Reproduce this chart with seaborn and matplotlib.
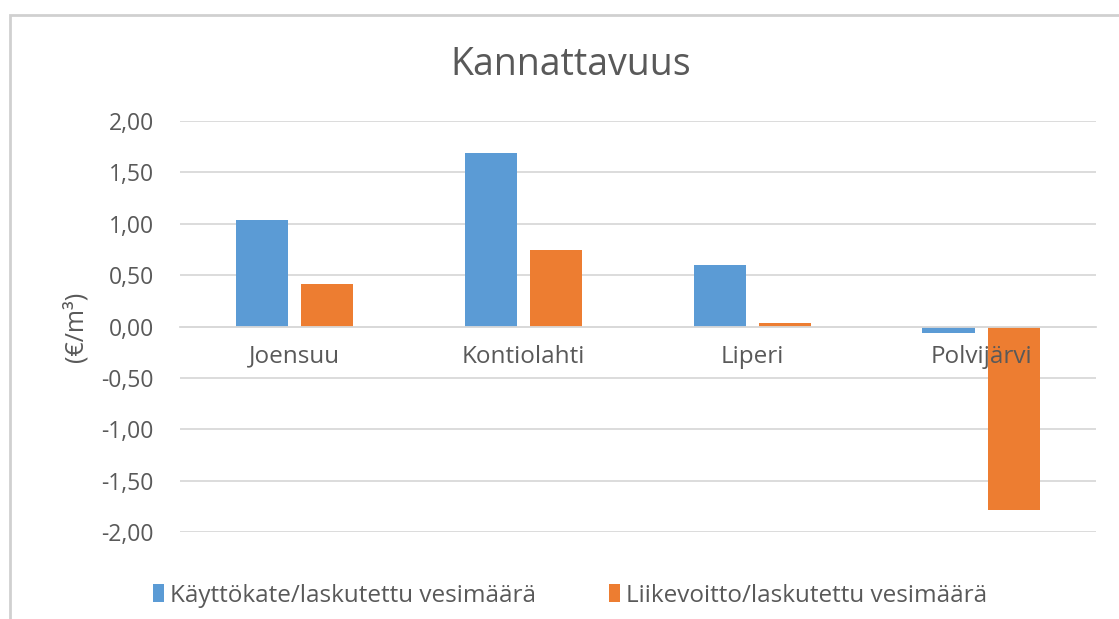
import matplotlib
matplotlib.use("Agg")
import matplotlib.pyplot as plt
import pandas as pd
import seaborn as sns
from matplotlib.patches import Rectangle

sns.set_style("white")
plt.rcParams['font.family'] = ['Open Sans', 'DejaVu Sans']

# data
kunnat = ["Joensuu", "Kontiolahti", "Liperi", "Polvijärvi"]
kayttokate = [1.04, 1.69, 0.60, -0.06]
liikevoitto = [0.41, 0.74, 0.03, -1.79]
sarjat = ["Käyttökate/laskutettu vesimäärä", "Liikevoitto/laskutettu vesimäärä"]
y_ticks = [-2.0, -1.5, -1.0, -0.5, 0.0, 0.5, 1.0, 1.5, 2.0]

df = pd.DataFrame({
    "kunta": kunnat * 2,
    "arvo": kayttokate + liikevoitto,
    "sarja": [sarjat[0]] * len(kunnat) + [sarjat[1]] * len(kunnat),
})

blue = "#5B9BD5"
orange = "#ED7D31"
grey_txt = "#595959"
grid_col = "#D9D9D9"

fig = plt.figure(figsize=(11.19, 6.19), dpi=100)
ax = fig.add_axes([0.161, 0.1405, 0.818, 0.664])

sns.barplot(data=df, x="kunta", y="arvo", hue="sarja", palette=[blue, orange],
            width=0.57, gap=0.2, saturation=1, linewidth=0, ax=ax, legend=True)

ax.set_ylim(-2, 2)
ax.set_xlim(-0.5, 3.5)
ax.set_yticks(y_ticks)
ax.set_yticklabels([f"{v:.2f}".replace(".", ",") for v in y_ticks],
                   fontsize=16.5, color=grey_txt)
ax.yaxis.grid(True, color=grid_col, linewidth=1.3)
ax.set_axisbelow(True)
ax.xaxis.set_zorder(5)  # category names drawn over the bars

# category labels sit on the zero line like in Excel
for s in ["left", "right", "top"]:
    ax.spines[s].set_visible(False)
ax.spines["bottom"].set_position(("data", 0))
ax.spines["bottom"].set_color(grid_col)
ax.spines["bottom"].set_linewidth(1.3)
ax.tick_params(axis="both", length=0)
ax.tick_params(axis="x", pad=13)
ax.tick_params(axis="y", pad=19)
for lbl in ax.get_xticklabels():
    lbl.set_fontsize(17.5)
    lbl.set_color(grey_txt)
ax.set_xlabel("")
ax.set_ylabel("(€/m³)", fontsize=18, color=grey_txt, labelpad=9)

fig.text(0.51, 0.895, "Kannattavuus", ha="center", va="center",
         fontsize=27, color=grey_txt)

leg = ax.legend(loc="center", bbox_to_anchor=(0.426, -0.155), ncol=2, frameon=False,
                prop={'size': 17.5}, handlelength=0.45,
                handleheight=0.75, handletextpad=0.25, columnspacing=3.0)
for t in leg.get_texts():
    t.set_color(grey_txt)

# chart frame
fig.patches.append(Rectangle((10 / 1119, -0.01), 1.1, 1 - 15 / 619 + 0.01,
                             transform=fig.transFigure, fill=False,
                             edgecolor="#D0D0D0", linewidth=2))

fig.savefig("out.png", dpi=100)
